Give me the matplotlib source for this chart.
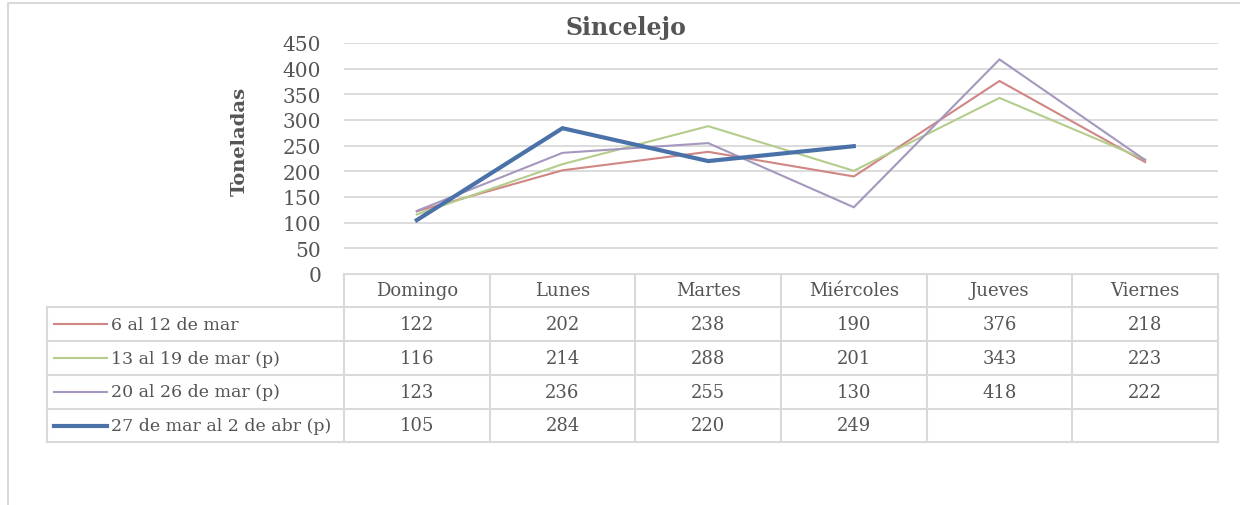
import numpy as np
import matplotlib.pyplot as plt
from matplotlib.lines import Line2D

dias = ['Domingo', 'Lunes', 'Martes', 'Miércoles', 'Jueves', 'Viernes']
series = ['6 al 12 de mar', '13 al 19 de mar (p)', '20 al 26 de mar (p)',
          '27 de mar al 2 de abr (p)']
s1 = [122, 202, 238, 190, 376, 218]
s2 = [116, 214, 288, 201, 343, 223]
s3 = [123, 236, 255, 130, 418, 222]
s4 = [105, 284, 220, 249, None, None]
valores = [s1, s2, s3, s4]
colores = ['#CF8684', '#B4CC8C', '#A597BD', '#4A72A8']
anchos = [1.5, 1.5, 1.5, 3.0]

W, H = 1240, 506
gris = '#555555'
borde = '#D9D9D9'
fuente = 'DejaVu Serif'
plt.rcParams['font.family'] = fuente

fig = plt.figure(figsize=(W / 100, H / 100), dpi=100)

# lienzo en pixeles para bordes y tabla
bg = fig.add_axes([0, 0, 1, 1])
bg.set_xlim(0, W)
bg.set_ylim(H, 0)
bg.axis('off')

px0, px1, py0, py1 = 344, 1218, 44, 275
ax = fig.add_axes([px0 / W, 1 - py1 / H, (px1 - px0) / W, (py1 - py0) / H])
x = np.arange(len(dias))
for v, c, lw in zip(valores, colores, anchos):
    y = np.array([np.nan if a is None else a for a in v], dtype=float)
    ax.plot(x, y, color=c, lw=lw, solid_joinstyle='miter')
ax.set_xlim(-0.5, len(dias) - 0.5)
ax.set_ylim(0, 450)
ax.set_yticks(range(0, 451, 50))
ax.set_xticks([])
ax.grid(axis='y', color=borde, lw=1.3)
ax.set_axisbelow(True)
for s in ax.spines.values():
    s.set_visible(False)
ax.tick_params(axis='y', length=0, pad=16.5, labelsize=14.5, labelcolor=gris)

bg.text(240, 141, 'Toneladas', rotation=90, ha='center', va='center',
        fontsize=14, fontweight='bold', color=gris)
bg.text(626, 28, 'Sincelejo', ha='center', va='center',
        fontsize=17, fontweight='bold', color=gris)

# borde del grafico
bg.plot([8, 8, W], [H, 4, 4], color=borde, lw=1.5)

# tabla de datos
colw = (px1 - px0) / len(dias)
cols = [px0 + colw * i for i in range(len(dias) + 1)]
filas = [275, 308, 342, 376, 410, 443]
tl = 47
kw = dict(color=borde, lw=1.5)
bg.plot([px0, px1], [filas[0], filas[0]], **kw)
for yy in filas[1:]:
    bg.plot([tl, px1], [yy, yy], **kw)
for xx in cols:
    bg.plot([xx, xx], [filas[0], filas[-1]], **kw)
bg.plot([tl, tl], [filas[1], filas[-1]], **kw)

for i, d in enumerate(dias):
    bg.text(cols[i] + colw / 2, (filas[0] + filas[1]) / 2, d, ha='center',
            va='center', fontsize=13, color=gris)
for r, (nom, v, c, lw) in enumerate(zip(series, valores, colores, anchos)):
    yc = (filas[r + 1] + filas[r + 2]) / 2
    bg.add_line(Line2D([54, 107], [yc, yc], color=c, lw=lw))
    bg.text(111, yc, nom, ha='left', va='center', fontsize=12.5, color=gris)
    for i, a in enumerate(v):
        if a is not None:
            bg.text(cols[i] + colw / 2, yc, str(a), ha='center', va='center',
                    fontsize=13, color=gris)

fig.savefig('out.png', dpi=100)
